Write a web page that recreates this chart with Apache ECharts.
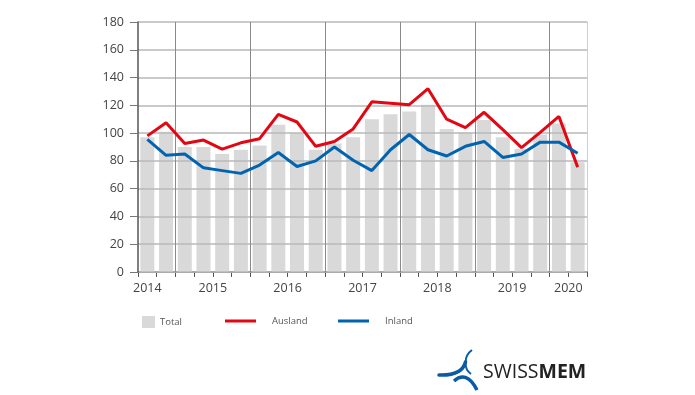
<!DOCTYPE html>
<html>
<head>
<meta charset="utf-8">
<script src="https://cdn.jsdelivr.net/npm/echarts@6/dist/echarts.min.js"></script>
<style>
html,body{margin:0;padding:0;background:#fff;}
#chart{width:695px;height:395px;}
</style>
</head>
<body>
<div id="chart"></div>
<script>
// ---- data ----
const categories = [
  'Q1 2014','Q2 2014','Q3 2014','Q4 2014',
  'Q1 2015','Q2 2015','Q3 2015','Q4 2015',
  'Q1 2016','Q2 2016','Q3 2016','Q4 2016',
  'Q1 2017','Q2 2017','Q3 2017','Q4 2017',
  'Q1 2018','Q2 2018','Q3 2018','Q4 2018',
  'Q1 2019','Q2 2019','Q3 2019','Q4 2019'
];
const totalValues   = [97, 101, 90, 90, 85, 88, 91, 106, 100, 88, 92.5, 97, 110, 113.5, 115.5, 120.5, 103, 100.5, 109.5, 97, 88.5, 99, 107, 79];
const auslandValues = [98, 107.5, 92.5, 95, 88.5, 93, 96, 113.5, 108, 90.5, 94, 103, 122.5, 121.5, 120.5, 132, 110, 104, 115, 102.5, 89.5, 100.5, 112, 75.5];
const inlandValues  = [95.5, 84, 85, 75, 73, 71, 77, 86, 76, 80, 90, 80.5, 73, 88, 99, 88, 83.5, 90.5, 94, 82.5, 85, 93.5, 93.5, 85.5];
const yearLabels = ['2014','2015','2016','2017','2018','2019','2020'];
const seriesNames = ['Total','Ausland','Inland'];

// ---- layout helpers (axis positions in category units) ----
const yearLabelAt = [0.5, 4, 8, 12, 16, 20, 23];
const yearGridAt = [2, 6, 10, 14, 18, 22];

const toPoints = arr => arr.map((v, i) => [i + 0.5, v]);
const tickValues = categories.map((c, i) => i).concat([categories.length]);

const FONT = "'Open Sans', 'DejaVu Sans', sans-serif";
const RED = '#e30613';
const BLUE = '#0064b0';
const BAR = '#d9d9d9';
const LOGO_BLUE = '#0a5aa5';

const chart = echarts.init(document.getElementById('chart'), null, {renderer: 'canvas'});

const legendText = {color: '#555', fontSize: 9.5, fontFamily: FONT};

chart.setOption({
  animation: false,
  backgroundColor: '#fff',
  grid: {left: 138, right: 108, top: 22, bottom: 123, containLabel: false},
  xAxis: {
    type: 'value',
    min: 0,
    max: categories.length,
    axisLine: {show: true, lineStyle: {color: '#555', width: 1.5}},
    axisTick: {show: true, customValues: tickValues, length: 5, lineStyle: {color: '#555', width: 1}},
    axisLabel: {
      customValues: yearLabelAt,
      formatter: v => yearLabels[yearLabelAt.indexOf(v)] || '',
      color: '#444', fontSize: 12.5, fontFamily: FONT, margin: 10
    },
    splitLine: {show: false}
  },
  yAxis: [{
    type: 'value',
    min: 0, max: 180, interval: 20,
    z: 3,
    axisLine: {show: true, lineStyle: {color: '#555', width: 1.5}},
    axisTick: {show: true, length: 8, lineStyle: {color: '#777', width: 1}},
    axisLabel: {color: '#444', fontSize: 12.5, fontFamily: FONT, margin: 14},
    splitLine: {show: true, lineStyle: {color: '#b8b8b8', width: 1.5}}
  }, {
    type: 'value',
    min: 0, max: 180, interval: 20,
    position: 'right',
    axisLine: {show: true, lineStyle: {color: '#cfcfcf', width: 1}},
    axisTick: {show: false},
    axisLabel: {show: false},
    splitLine: {show: false}
  }],
  legend: [{
    data: [seriesNames[0]],
    left: 137, top: 311,
    icon: 'rect', itemWidth: 13, itemHeight: 12,
    textStyle: legendText, selectedMode: false
  }, {
    data: [seriesNames[1]],
    left: 220, top: 311,
    icon: 'rect', itemWidth: 31, itemHeight: 3,
    textStyle: Object.assign({padding: [0, 0, 0, 11]}, legendText), selectedMode: false
  }, {
    data: [seriesNames[2]],
    left: 333, top: 311,
    icon: 'rect', itemWidth: 31, itemHeight: 3,
    textStyle: Object.assign({padding: [0, 0, 0, 11]}, legendText), selectedMode: false
  }],
  series: [{
    name: seriesNames[0],
    type: 'bar',
    data: toPoints(totalValues),
    barWidth: 14,
    itemStyle: {color: BAR},
    z: 2,
    markLine: {
      silent: true,
      symbol: 'none',
      label: {show: false},
      lineStyle: {color: '#8a8a8a', width: 1, type: 'solid'},
      data: yearGridAt.map(x => ({xAxis: x}))
    }
  }, {
    name: seriesNames[1],
    type: 'line',
    data: toPoints(auslandValues),
    color: RED,
    symbol: 'none',
    lineStyle: {color: RED, width: 3},
    z: 5
  }, {
    name: seriesNames[2],
    type: 'line',
    data: toPoints(inlandValues),
    color: BLUE,
    symbol: 'none',
    lineStyle: {color: BLUE, width: 3},
    z: 5
  }],
  graphic: [
    {type: 'bezierCurve', shape: {x1: 472, y1: 350, x2: 471, y2: 374, cpx1: 463.5, cpy1: 356, cpx2: 463.5, cpy2: 369},
     style: {stroke: LOGO_BLUE, lineWidth: 2, fill: null}},
    {type: 'bezierCurve', shape: {x1: 439, y1: 375, x2: 465.5, y2: 362, cpx1: 452, cpy1: 375.5, cpx2: 463, cpy2: 372},
     style: {stroke: LOGO_BLUE, lineWidth: 3.5, fill: null, lineCap: 'round'}},
    {type: 'bezierCurve', shape: {x1: 454, y1: 381, x2: 477, y2: 390, cpx1: 462, cpy1: 374, cpx2: 470, cpy2: 376},
     style: {stroke: LOGO_BLUE, lineWidth: 3.5, fill: null}},
    {type: 'text', x: 483, y: 372,
     style: {
       text: '{a|SWISS}{b|MEM}',
       verticalAlign: 'middle',
       rich: {
         a: {fontSize: 19.5, fontFamily: FONT, fill: '#222', fontWeight: 'normal'},
         b: {fontSize: 19.5, fontFamily: FONT, fill: '#222', fontWeight: 'bold'}
       }
     }}
  ]
});
</script>
</body>
</html>
